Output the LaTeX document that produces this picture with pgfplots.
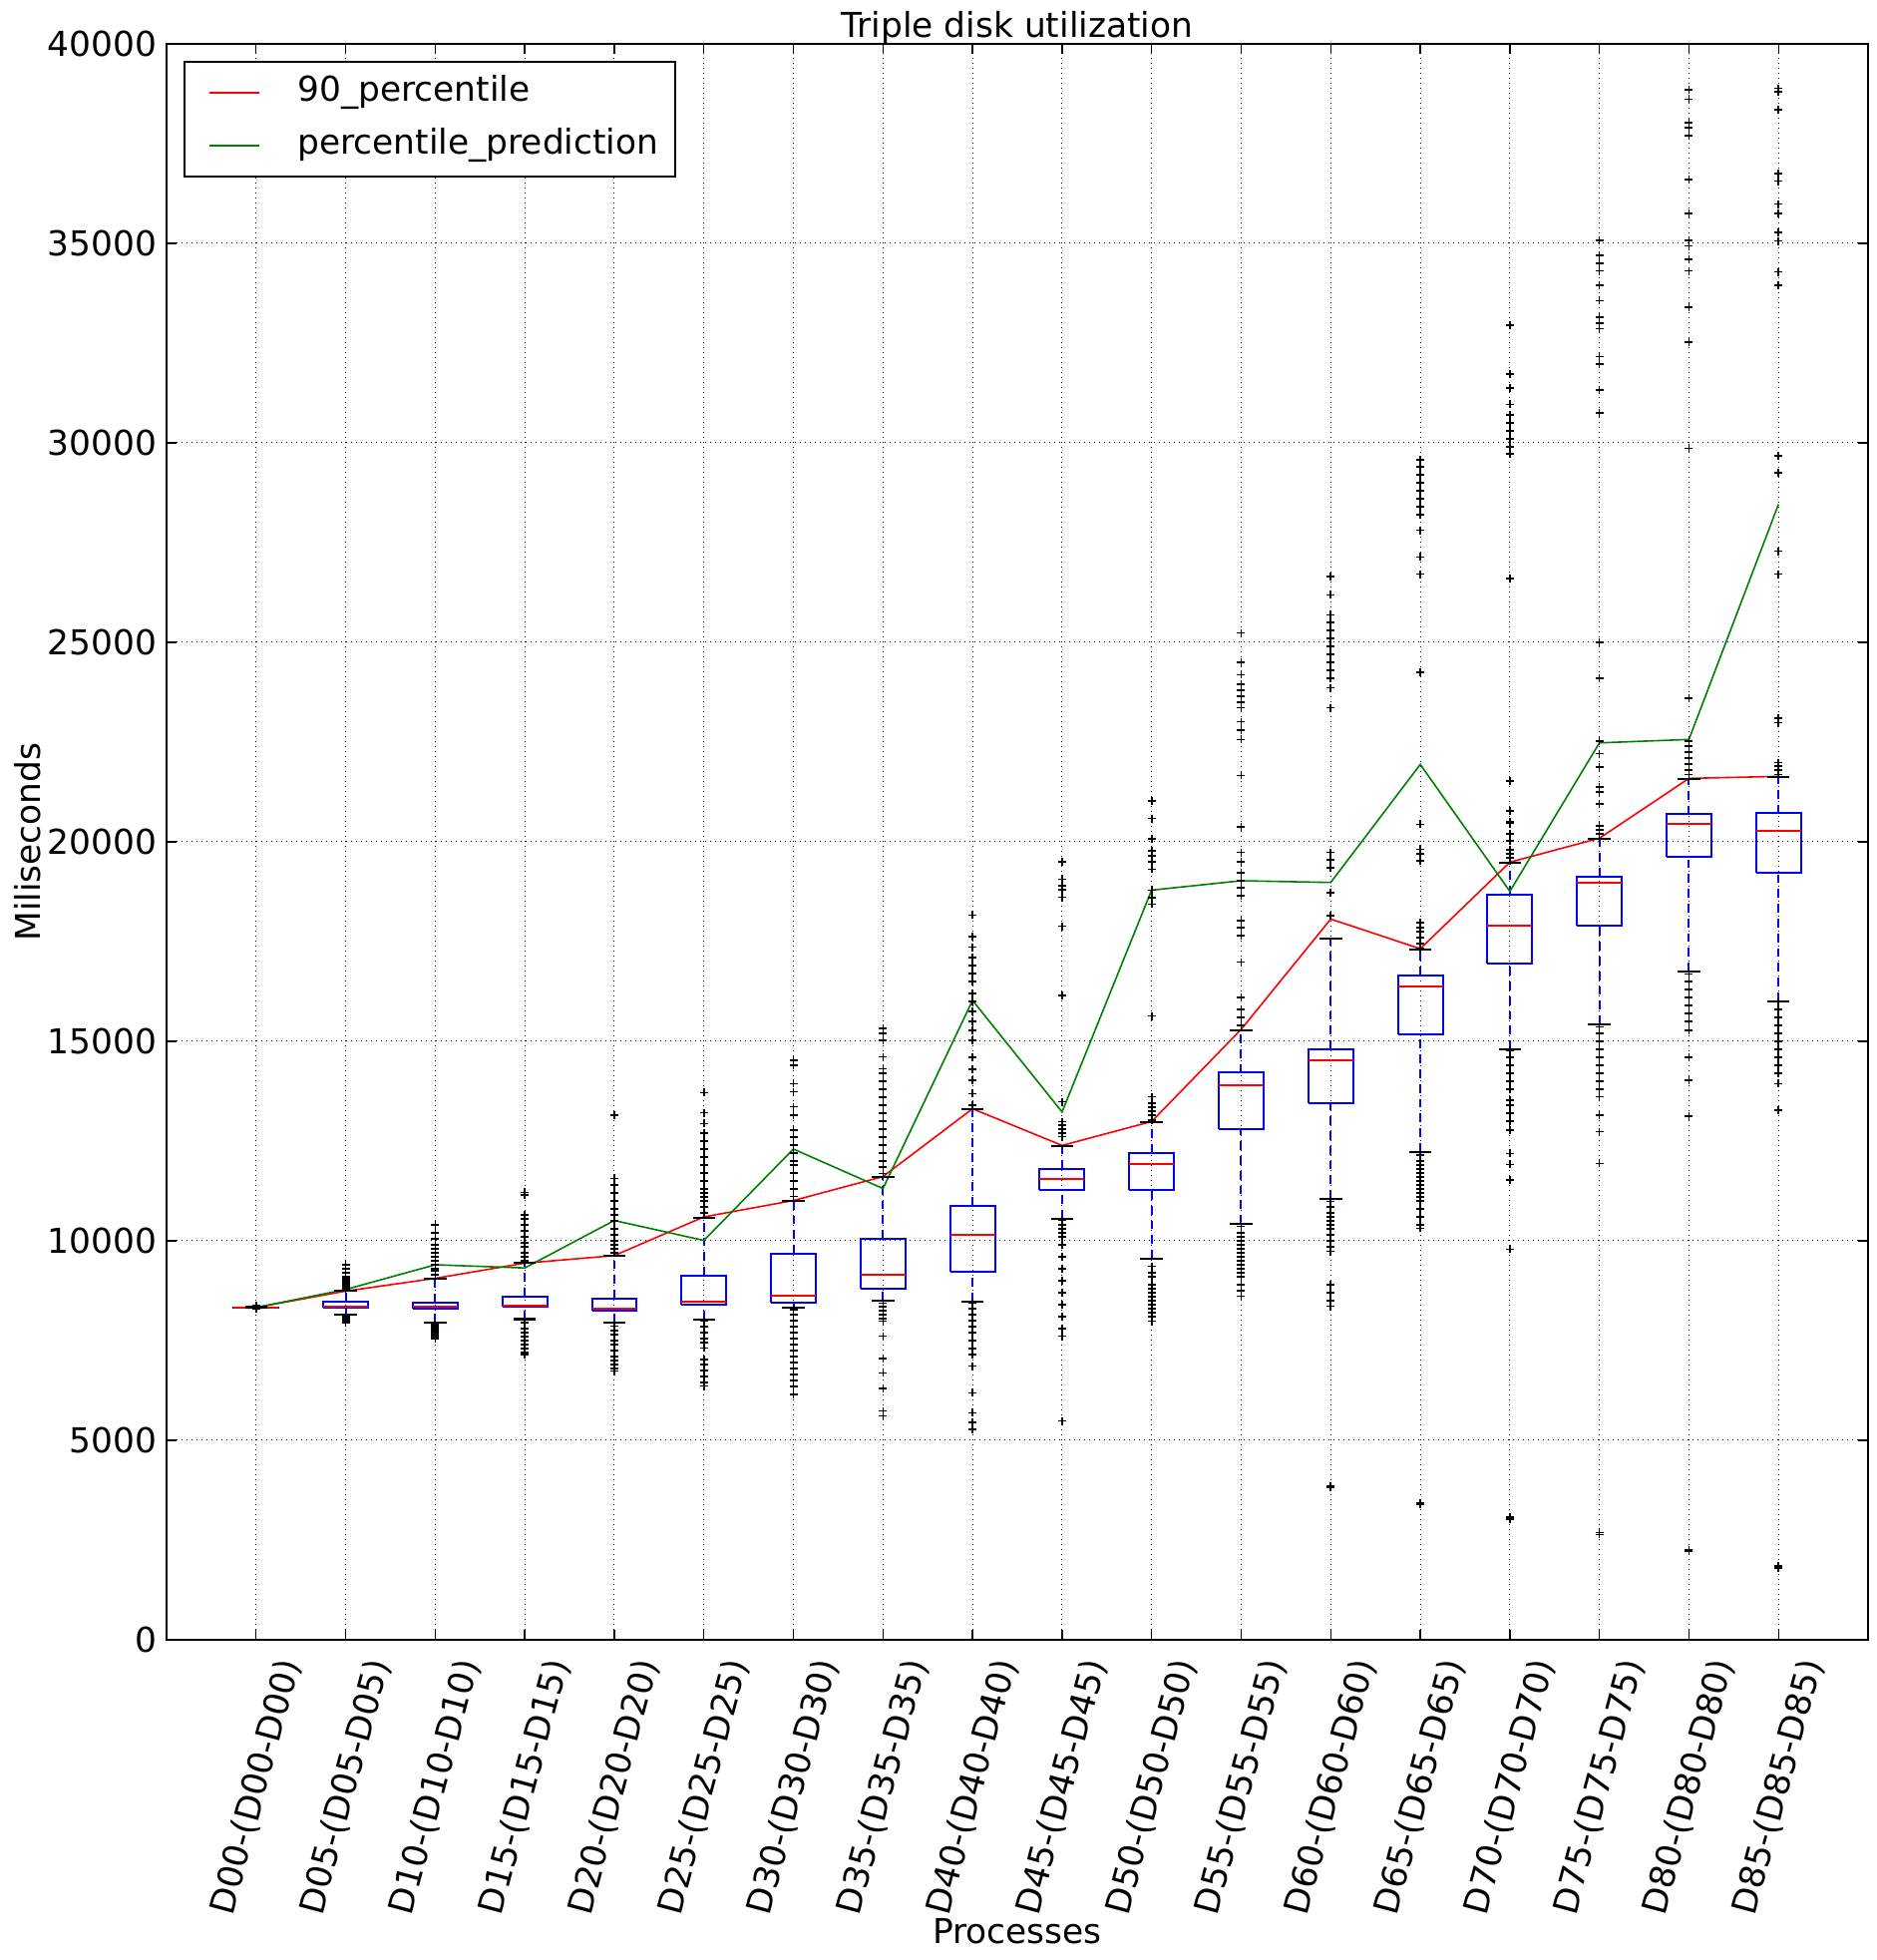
\documentclass[border=0pt]{standalone}
\usepackage{pgfplots}
\pgfplotsset{compat=1.18}
\usepackage{pgfplotstable}
\usepackage{graphicx}
\usepackage{fontspec}
\setmainfont{DejaVu Sans}
\definecolor{mplgreen}{rgb}{0,0.5,0}
\newcommand{\R}[1]{\rotatebox{75}{#1}}
% box statistics: position, lower whisker, lower quartile, median, upper quartile, upper whisker
\pgfplotstableread[row sep=\\]{
x lw q1 med q3 uw\\
1 8320 8326 8330 8334 8340\\
2 8158 8315 8340 8475 8750\\
3 7950 8308 8340 8450 9057\\
4 8036 8350 8383 8607 9440\\
5 7950 8250 8300 8550 9633\\
6 8025 8400 8475 9125 10583\\
7 8325 8450 8625 9675 11008\\
8 8500 8800 9150 10050 11608\\
9 8475 9225 10150 10875 13308\\
10 10550 11275 11550 11800 12375\\
11 9550 11275 11925 12208 12975\\
12 10425 12800 13900 14216 15275\\
13 11050 13441 14525 14800 17582\\
14 12232 15175 16375 16650 17300\\
15 14800 16958 17900 18675 19483\\
16 15425 17891 18975 19125 20075\\
17 16750 19625 20450 20690 21582\\
18 16007 19233 20275 20716 21625\\
}\stats
% box outlines (quartile rectangles, 0.5 wide)
\pgfplotstableread[row sep=\\]{
x y\\
0.75 8326\\1.25 8326\\1.25 8334\\0.75 8334\\0.75 8326\\nan nan\\
1.75 8315\\2.25 8315\\2.25 8475\\1.75 8475\\1.75 8315\\nan nan\\
2.75 8308\\3.25 8308\\3.25 8450\\2.75 8450\\2.75 8308\\nan nan\\
3.75 8350\\4.25 8350\\4.25 8607\\3.75 8607\\3.75 8350\\nan nan\\
4.75 8250\\5.25 8250\\5.25 8550\\4.75 8550\\4.75 8250\\nan nan\\
5.75 8400\\6.25 8400\\6.25 9125\\5.75 9125\\5.75 8400\\nan nan\\
6.75 8450\\7.25 8450\\7.25 9675\\6.75 9675\\6.75 8450\\nan nan\\
7.75 8800\\8.25 8800\\8.25 10050\\7.75 10050\\7.75 8800\\nan nan\\
8.75 9225\\9.25 9225\\9.25 10875\\8.75 10875\\8.75 9225\\nan nan\\
9.75 11275\\10.25 11275\\10.25 11800\\9.75 11800\\9.75 11275\\nan nan\\
10.75 11275\\11.25 11275\\11.25 12208\\10.75 12208\\10.75 11275\\nan nan\\
11.75 12800\\12.25 12800\\12.25 14216\\11.75 14216\\11.75 12800\\nan nan\\
12.75 13441\\13.25 13441\\13.25 14800\\12.75 14800\\12.75 13441\\nan nan\\
13.75 15175\\14.25 15175\\14.25 16650\\13.75 16650\\13.75 15175\\nan nan\\
14.75 16958\\15.25 16958\\15.25 18675\\14.75 18675\\14.75 16958\\nan nan\\
15.75 17891\\16.25 17891\\16.25 19125\\15.75 19125\\15.75 17891\\nan nan\\
16.75 19625\\17.25 19625\\17.25 20690\\16.75 20690\\16.75 19625\\nan nan\\
17.75 19233\\18.25 19233\\18.25 20716\\17.75 20716\\17.75 19233\\
}\boxes
% whisker segments
\pgfplotstableread[row sep=\\]{
x y\\
1 8334\\1 8340\\nan nan\\1 8320\\1 8326\\nan nan\\
2 8475\\2 8750\\nan nan\\2 8158\\2 8315\\nan nan\\
3 8450\\3 9057\\nan nan\\3 7950\\3 8308\\nan nan\\
4 8607\\4 9440\\nan nan\\4 8036\\4 8350\\nan nan\\
5 8550\\5 9633\\nan nan\\5 7950\\5 8250\\nan nan\\
6 9125\\6 10583\\nan nan\\6 8025\\6 8400\\nan nan\\
7 9675\\7 11008\\nan nan\\7 8325\\7 8450\\nan nan\\
8 10050\\8 11608\\nan nan\\8 8500\\8 8800\\nan nan\\
9 10875\\9 13308\\nan nan\\9 8475\\9 9225\\nan nan\\
10 11800\\10 12375\\nan nan\\10 10550\\10 11275\\nan nan\\
11 12208\\11 12975\\nan nan\\11 9550\\11 11275\\nan nan\\
12 14216\\12 15275\\nan nan\\12 10425\\12 12800\\nan nan\\
13 14800\\13 17582\\nan nan\\13 11050\\13 13441\\nan nan\\
14 16650\\14 17300\\nan nan\\14 12232\\14 15175\\nan nan\\
15 18675\\15 19483\\nan nan\\15 14800\\15 16958\\nan nan\\
16 19125\\16 20075\\nan nan\\16 15425\\16 17891\\nan nan\\
17 20690\\17 21582\\nan nan\\17 16750\\17 19625\\nan nan\\
18 20716\\18 21625\\nan nan\\18 16007\\18 19233\\
}\whisk
% outliers
\pgfplotstableread[row sep=\\]{
x y\\
1 8300\\1 8350\\1 8370\\
2 8800\\2 8850\\2 8900\\2 8950\\2 9000\\2 9050\\2 9100\\2 9200\\2 9300\\2 9400\\2 8100\\2 8050\\2 8000\\2 7970\\2 7950\\
3 9150\\3 9250\\3 9300\\3 9400\\3 9500\\3 9600\\3 9700\\3 9800\\3 9900\\3 10050\\3 10200\\3 10400\\3 7900\\3 7850\\3 7800\\3 7750\\3 7700\\3 7650\\3 7600\\3 7550\\
4 9500\\4 9600\\4 9700\\4 9850\\4 9950\\4 10100\\4 10250\\4 10400\\4 10550\\4 10650\\4 11150\\4 11215\\4 7950\\4 7800\\4 7700\\4 7600\\4 7500\\4 7400\\4 7300\\4 7200\\4 7150\\
5 9700\\5 9800\\5 9900\\5 10000\\5 10150\\5 10300\\5 10500\\5 10650\\5 10800\\5 11000\\5 11200\\5 11400\\5 11566\\5 13150\\5 7858\\5 7750\\5 7650\\5 7500\\5 7400\\5 7250\\5 7100\\5 7000\\5 6900\\5 6800\\5 6733\\
6 10700\\6 10850\\6 11000\\6 11100\\6 11200\\6 11300\\6 11500\\6 11700\\6 11900\\6 12100\\6 12300\\6 12500\\6 12700\\6 12940\\6 13208\\6 13716\\6 7983\\6 7850\\6 7700\\6 7550\\6 7450\\6 7316\\6 7025\\6 6900\\6 6750\\6 6600\\6 6450\\6 6358\\
7 11108\\7 11300\\7 11500\\7 11700\\7 11900\\7 12000\\7 12200\\7 12400\\7 12600\\7 12775\\7 13150\\7 13358\\7 13733\\7 13940\\7 14399\\7 14524\\7 8275\\7 8150\\7 8000\\7 7850\\7 7700\\7 7550\\7 7400\\7 7250\\7 7100\\7 6950\\7 6800\\7 6650\\7 6500\\7 6350\\7 6150\\
8 11691\\8 11850\\8 12000\\8 12200\\8 12400\\8 12600\\8 12800\\8 13000\\8 13200\\8 13400\\8 13600\\8 13800\\8 14000\\8 14200\\8 14316\\8 14608\\8 15024\\8 15200\\8 15332\\8 8442\\8 8350\\8 8250\\8 8150\\8 8050\\8 7983\\8 7608\\8 7050\\8 6691\\8 6300\\8 5733\\8 5608\\
9 13400\\9 13692\\9 14025\\9 14300\\9 14600\\9 15025\\9 15275\\9 15500\\9 15750\\9 16000\\9 16200\\9 16500\\9 16700\\9 16900\\9 17100\\9 17358\\9 17625\\9 18166\\9 8441\\9 8300\\9 8150\\9 8000\\9 7850\\9 7700\\9 7500\\9 7300\\9 7150\\9 6858\\9 6191\\9 5691\\9 5450\\9 5275\\
10 12608\\10 12700\\10 12800\\10 12900\\10 12983\\10 13483\\10 16150\\10 17883\\10 18608\\10 18800\\10 18900\\10 19067\\10 19500\\10 10525\\10 10400\\10 10300\\10 10200\\10 10100\\10 9900\\10 9600\\10 9300\\10 9000\\10 8700\\10 8400\\10 8100\\10 7800\\10 7608\\10 5483\\
11 13025\\11 13150\\11 13250\\11 13350\\11 13450\\11 13608\\11 15633\\11 18441\\11 18600\\11 18790\\11 19317\\11 19500\\11 19650\\11 19775\\11 20067\\11 20583\\11 21025\\11 9358\\11 9200\\11 9100\\11 8900\\11 8800\\11 8700\\11 8600\\11 8500\\11 8400\\11 8300\\11 8200\\11 8100\\11 7983\\
12 15400\\12 15600\\12 15800\\12 16100\\12 16983\\12 17649\\12 17850\\12 18024\\12 18650\\12 18850\\12 19025\\12 19232\\12 19500\\12 19732\\12 20374\\12 21665\\12 22566\\12 22800\\12 23007\\12 23357\\12 23500\\12 23650\\12 23800\\12 23950\\12 24190\\12 24499\\12 25232\\12 10358\\12 10200\\12 10100\\12 10000\\12 9900\\12 9800\\12 9700\\12 9600\\12 9500\\12 9400\\12 9300\\12 9200\\12 9100\\12 8900\\12 8750\\12 8608\\
13 18149\\13 18732\\13 19357\\13 19550\\13 19732\\13 23357\\13 23857\\13 24100\\13 24300\\13 24500\\13 24700\\13 24900\\13 25100\\13 25300\\13 25500\\13 25690\\13 26190\\13 26650\\13 10983\\13 10850\\13 10700\\13 10600\\13 10500\\13 10400\\13 10300\\13 10150\\13 10000\\13 9850\\13 9733\\13 8900\\13 8700\\13 8500\\13 8358\\13 3858\\13 3820\\
14 17325\\14 17450\\14 17600\\14 17750\\14 17850\\14 17975\\14 19524\\14 19700\\14 19816\\14 20441\\14 24249\\14 26711\\14 27141\\14 27810\\14 28193\\14 28400\\14 28600\\14 28800\\14 29000\\14 29200\\14 29400\\14 29579\\14 12150\\14 12000\\14 11900\\14 11800\\14 11700\\14 11600\\14 11500\\14 11400\\14 11300\\14 11200\\14 11100\\14 11000\\14 10800\\14 10600\\14 10400\\14 10315\\14 3425\\14 3400\\
15 19600\\15 19700\\15 19800\\15 20025\\15 20200\\15 20458\\15 20500\\15 20775\\15 21525\\15 26596\\15 29723\\15 29900\\15 30100\\15 30300\\15 30500\\15 30700\\15 30966\\15 31367\\15 31730\\15 32954\\15 14775\\15 14600\\15 14400\\15 14200\\15 14000\\15 13800\\15 13525\\15 13400\\15 13200\\15 13000\\15 12775\\15 12190\\15 11915\\15 11525\\15 9790\\15 3070\\15 3030\\
16 20192\\16 20300\\16 20400\\16 20942\\16 21250\\16 21375\\16 21875\\16 22208\\16 22525\\16 24100\\16 25000\\16 30755\\16 31328\\16 31969\\16 32160\\16 32858\\16 33000\\16 33145\\16 33566\\16 33948\\16 34311\\16 34500\\16 34700\\16 35076\\16 15358\\16 15200\\16 15000\\16 14800\\16 14600\\16 14400\\16 14200\\16 14000\\16 13800\\16 13608\\16 13150\\16 12733\\16 11942\\16 2690\\16 2640\\
17 21690\\17 21800\\17 21950\\17 22100\\17 22250\\17 22400\\17 22525\\17 23600\\17 29866\\17 32524\\17 33394\\17 34311\\17 34598\\17 34933\\17 35076\\17 35746\\17 36606\\17 37706\\17 37900\\17 38021\\17 38614\\17 38853\\17 16690\\17 16500\\17 16300\\17 16100\\17 15900\\17 15700\\17 15500\\17 15275\\17 14600\\17 14025\\17 13125\\17 2250\\17 2220\\
18 21690\\18 21800\\18 21900\\18 21982\\18 22982\\18 23100\\18 26711\\18 27284\\18 29245\\18 29675\\18 33948\\18 34283\\18 35057\\18 35268\\18 35746\\18 35985\\18 36558\\18 36749\\18 38356\\18 38805\\18 38882\\18 15983\\18 15800\\18 15600\\18 15400\\18 15200\\18 15000\\18 14800\\18 14600\\18 14400\\18 14200\\18 13942\\18 13275\\18 1850\\18 1800\\
}\outl
\begin{document}
\fontsize{8.6}{10.3}\selectfont
\begin{tikzpicture}
\useasboundingbox (-41.75pt,-80.25pt) rectangle (428.5pt,411pt);
\begin{axis}[
  at={(0,0)}, anchor=south west, scale only axis,
  width=426.5pt, height=400pt,
  xmin=0, xmax=19, ymin=0, ymax=40000,
  xtick={1,...,18},
  xticklabels={\R{D00-(D00-D00)},\R{D05-(D05-D05)},\R{D10-(D10-D10)},\R{D15-(D15-D15)},\R{D20-(D20-D20)},\R{D25-(D25-D25)},\R{D30-(D30-D30)},\R{D35-(D35-D35)},\R{D40-(D40-D40)},\R{D45-(D45-D45)},\R{D50-(D50-D50)},\R{D55-(D55-D55)},\R{D60-(D60-D60)},\R{D65-(D65-D65)},\R{D70-(D70-D70)},\R{D75-(D75-D75)},\R{D80-(D80-D80)},\R{D85-(D85-D85)}},
  ytick={0,5000,10000,15000,20000,25000,30000,35000,40000},
  scaled y ticks=false,
  /pgf/number format/assume math mode=true,
  /pgf/number format/1000 sep={},
  yticklabel style={anchor=east, inner sep=0pt, xshift=-2.2pt},
  xticklabel style={anchor=north, inner sep=0pt, yshift=-4pt},
  tick align=inside, major tick length=2.5pt,
  tick style={black, line width=0.35pt},
  grid=major,
  major grid style={black, line width=0.25pt, dash pattern=on 0.25pt off 1pt},
  axis line style={black, line width=0.5pt},
  every axis title shift=0pt,
  title={Triple disk utilization},
  title style={at={(axis description cs:0.5,1.00375)}, anchor=base, inner sep=0pt},
  xlabel={Processes},
  xlabel style={at={(axis description cs:0.5,-0.19)}, anchor=base, inner sep=0pt},
  ylabel={Miliseconds},
  ylabel style={at={(axis description cs:-0.0741,0.5)}, anchor=base, inner sep=0pt},
  legend style={at={(axis description cs:0,1)}, anchor=north west, xshift=4.25pt, yshift=-4.25pt,
    draw=black, line width=0.45pt, inner xsep=4.25pt, inner ysep=1.2pt,
    /tikz/column sep=9.5pt, /tikz/row sep=0pt,
    nodes={inner sep=0pt, text height=8.8pt, text depth=4.4pt},
    font=\fontsize{8.6}{10.3}\selectfont},
  legend cell align=left,
  legend image code/.code={\path (0pt,0pt); \draw[#1, line width=0.4pt] (1.85pt,0pt) -- (14.25pt,0pt);},
]
\addplot[forget plot, blue, line width=0.5pt, dash pattern=on 2.2pt off 1.5pt, unbounded coords=jump, mark=none] table[x=x, y=y] {\whisk};
\addplot[forget plot, blue, line width=0.5pt, unbounded coords=jump, mark=none] table[x=x, y=y] {\boxes};
\addplot[forget plot, only marks, mark=-, mark size=5.612pt, mark options={red, line width=0.45pt, solid}] table[x=x, y=med] {\stats};
\addplot[forget plot, only marks, mark=+, mark size=1pt, mark options={black, line width=0.4pt, solid}] table[x=x, y=y] {\outl};
\addplot[forget plot, only marks, mark=-, mark size=2.806pt, mark options={black, line width=0.55pt, solid}] table[x=x, y=lw] {\stats};
\addplot[forget plot, only marks, mark=-, mark size=2.806pt, mark options={black, line width=0.55pt, solid}] table[x=x, y=uw] {\stats};
\addplot[red, line width=0.4pt, mark=none] coordinates {(1,8330) (2,8740) (3,9060) (4,9440) (5,9630) (6,10600) (7,11010) (8,11610) (9,13310) (10,12390) (11,12990) (12,15300) (13,18065) (14,17320) (15,19490) (16,20090) (17,21590) (18,21640)};
\addlegendentry{90\_percentile}
\addplot[mplgreen, line width=0.4pt, mark=none] coordinates {(1,8330) (2,8780) (3,9400) (4,9320) (5,10510) (6,10010) (7,12300) (8,11310) (9,16025) (10,13230) (11,18790) (12,19025) (13,18982) (14,21940) (15,18758) (16,22480) (17,22566) (18,28461)};
\addlegendentry{percentile\_prediction}
\end{axis}
\end{tikzpicture}
\end{document}
